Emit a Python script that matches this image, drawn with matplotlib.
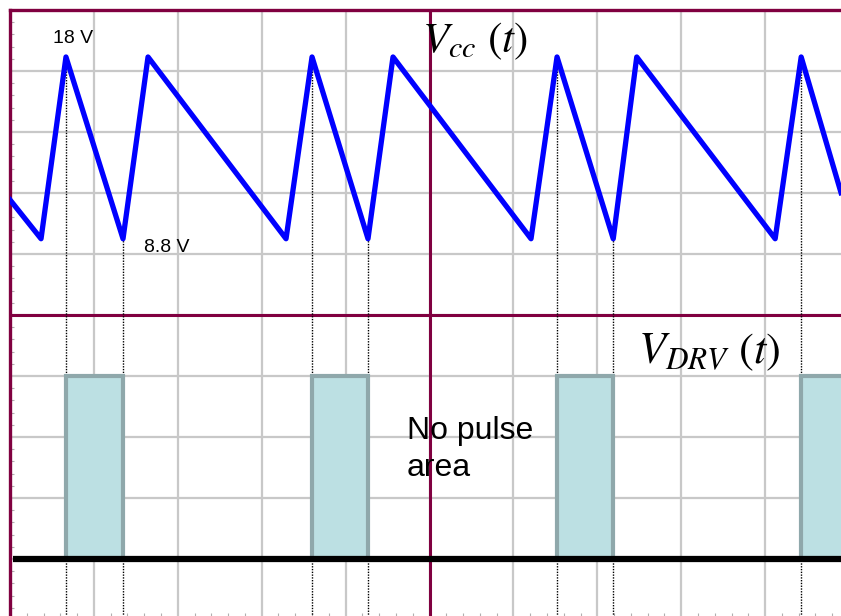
import numpy as np
import matplotlib.pyplot as plt
from matplotlib.ticker import MultipleLocator

plt.rcParams['font.family'] = ['Liberation Sans', 'DejaVu Sans']
plt.rcParams['mathtext.fontset'] = 'stix'

# Vcc trace: time in graticule divisions, voltage in V
vcc_t = [0.0, 0.37, 0.667, 1.347, 1.645, 3.29, 3.60, 4.267, 4.565,
         6.21, 6.52, 7.19, 7.47, 9.12, 9.43, 9.905]
vcc_v = [10.77, 8.8, 18.0, 8.8, 18.0, 8.8, 18.0, 8.8, 18.0,
         8.8, 18.0, 8.8, 18.0, 8.8, 18.0, 11.13]

# driver pulses (start, end), high while Vcc falls from 18 V to 8.8 V
drv_start = [0.667, 3.60, 6.52, 9.43]
drv_end = [1.347, 4.267, 7.19, 10.3]

# scope settings
ch1_vdiv = 9.2 / 2.98      # V per division
ch1_offset = 9.23 - 18.0 / ch1_vdiv
ch2_low, ch2_high = 1.0, 4.0

def vcc_to_div(v):
    return ch1_offset + np.asarray(v) / ch1_vdiv

maroon = '#800040'
grid_gray = '#c8c8c8'

fig = plt.figure(figsize=(8.41, 6.16), dpi=100)
ax = fig.add_axes([10 / 841, -4 / 616, 839 / 841, 610 / 616])
ax.set_xlim(0, 10)
ax.set_ylim(0, 10)

# graticule
ax.xaxis.set_major_locator(MultipleLocator(1))
ax.yaxis.set_major_locator(MultipleLocator(1))
ax.xaxis.set_minor_locator(MultipleLocator(0.2))
ax.yaxis.set_minor_locator(MultipleLocator(0.2))
ax.grid(True, which='major', color=grid_gray, lw=1.6, zorder=0)
ax.set_axisbelow(True)
ax.tick_params(which='major', length=0, labelbottom=False, labelleft=False)
ax.tick_params(which='minor', direction='in', length=3, width=0.8,
               color='#b0b0b0', labelbottom=False, labelleft=False)
ax.tick_params(axis='x', which='minor', length=5)
for s in ax.spines.values():
    s.set_color(maroon)
    s.set_linewidth(2.4)
ax.axvline(5, color=maroon, lw=2.2, zorder=1)
ax.axhline(5, color=maroon, lw=2.2, zorder=1)

# dotted markers from trace down to the bottom
edges = drv_start[:3] + drv_end[:3] + [drv_start[3]]
for t in edges:
    top = vcc_to_div(np.interp(t, vcc_t, vcc_v))
    ax.plot([t, t], [0, top], color='black', lw=1.0, ls=(0, (1, 1)), zorder=2)

# driver pulses
starts = np.array(drv_start)
widths = np.array(drv_end) - starts
ax.bar(starts, ch2_high - ch2_low, width=widths, bottom=ch2_low, align='edge',
       facecolor='#bce0e3', edgecolor='#8fa8ab', lw=3, zorder=3)
ax.plot([0.04, 10], [ch2_low, ch2_low], color='black', lw=4.5,
        solid_capstyle='butt', zorder=4)

# Vcc trace
ax.plot(vcc_t, vcc_to_div(vcc_v), color='#0000ff', lw=3.8,
        solid_joinstyle='round', zorder=5)

ax.text(0.51, 9.46, '18 V', fontsize=14, va='baseline', zorder=6)
ax.text(1.60, 6.03, '8.8 V', fontsize=14, va='baseline', zorder=6)
ax.text(4.91, 9.30, r'$V_{cc}\ (t)$', fontsize=31, va='baseline', zorder=6)
ax.text(7.49, 4.21, r'$V_{DRV}\ (t)$', fontsize=32, va='baseline', zorder=6)
ax.text(4.73, 2.36, 'No pulse\narea', fontsize=23, va='baseline',
        linespacing=1.3, zorder=6)

fig.savefig('out.png', dpi=100)
